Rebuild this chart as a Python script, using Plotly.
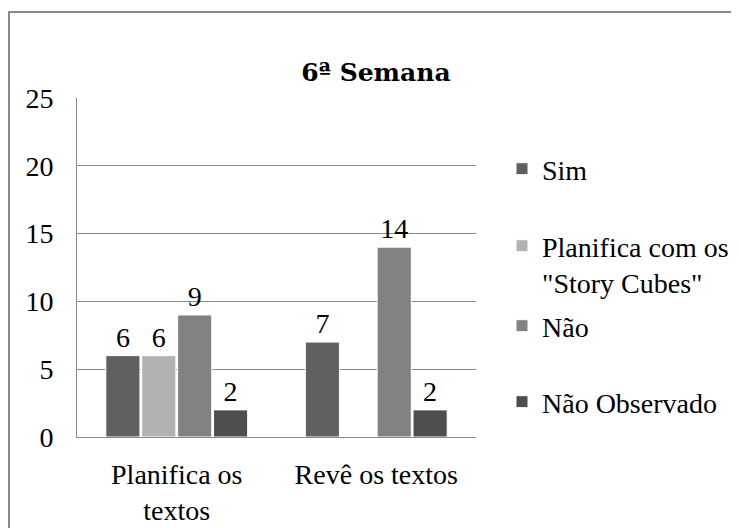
import plotly.graph_objects as go

categories = ["Planifica os<br>textos", "Revê os textos"]
series_names = ["Sim", "Planifica com os<br>\"Story Cubes\"", "Não", "Não Observado"]
sim = [6, 7]
planifica_cubes = [6, None]
nao = [9, 14]
nao_observado = [2, 2]
y_ticks = [0, 5, 10, 15, 20, 25]

series_values = [sim, planifica_cubes, nao, nao_observado]
colors = ["#606060", "#b2b2b2", "#818181", "#4e4e4e"]
legend_ids = ["legend", "legend2", "legend3", "legend4"]

# page body has an 8px margin, so the figure is drawn 8px right/down
OFF = 8
W, H = 739 - OFF, 528 - OFF
legend_centers_px = [161, 256, 318, 394]
FONT = "Liberation Serif"

fig = go.Figure()
for name, vals, col, lid in zip(series_names, series_values, colors, legend_ids):
    fig.add_trace(go.Bar(
        x=categories, y=vals, name=name, legend=lid,
        marker=dict(color=col, line=dict(color="white", width=1)),
        text=[("" if v is None else str(v)) for v in vals],
        textposition="outside", cliponaxis=False,
        textfont=dict(family=FONT, size=28, color="black"),
    ))

layout_legends = {}
for lid, cy in zip(legend_ids, legend_centers_px):
    layout_legends[lid] = dict(
        x=(502 - OFF) / W, xref="container", xanchor="left",
        y=1 - cy / H, yref="container", yanchor="middle",
        font=dict(family=FONT, size=28, color="black"),
        bgcolor="rgba(0,0,0,0)", valign="top", itemwidth=30,
    )

L, T, R, B = 77 - OFF, 98 - OFF, 476 - OFF, 437 - OFF
PW, PH = R - L, B - T

fig.update_layout(
    width=W, height=H,
    margin=dict(l=L, r=W - R, t=T, b=H - B, autoexpand=False),
    paper_bgcolor="white", plot_bgcolor="white",
    font=dict(family=FONT, size=28, color="black"),
    title=dict(text="<b>6ª Semana</b>", x=(376 - OFF) / W, xref="container", xanchor="center",
               y=1 - (72 - OFF) / H, yref="container", yanchor="middle",
               font=dict(family="DejaVu Serif", size=25, color="black")),
    barmode="group", bargap=0.28, bargroupgap=0.05,
    showlegend=True,
    **layout_legends,
)
fig.update_yaxes(range=[0, 25], tickvals=y_ticks, showgrid=True, gridcolor="#8a8a8a", gridwidth=1,
                 showline=True, linecolor="#8a8a8a", linewidth=1, zeroline=False, automargin=False,
                 ticklabelstandoff=17, tickfont=dict(family=FONT, size=28, color="black"))
fig.update_xaxes(showline=True, linecolor="#8a8a8a", linewidth=1, ticks="", automargin=False,
                 ticklabelstandoff=12, tickfont=dict(family=FONT, size=28, color="black"))

# outer chart border (extends beyond the page on right/bottom as in reference)
bx0, by0 = 1, 12 - OFF
fig.add_shape(type="rect", xref="paper", yref="paper",
              x0=(bx0 - L) / PW, x1=(W + 30 - L) / PW,
              y0=(B - (H + 30)) / PH, y1=(B - by0) / PH,
              line=dict(color="#8a8a8a", width=2), fillcolor="rgba(0,0,0,0)", layer="below")

fig.write_html("out.html")
